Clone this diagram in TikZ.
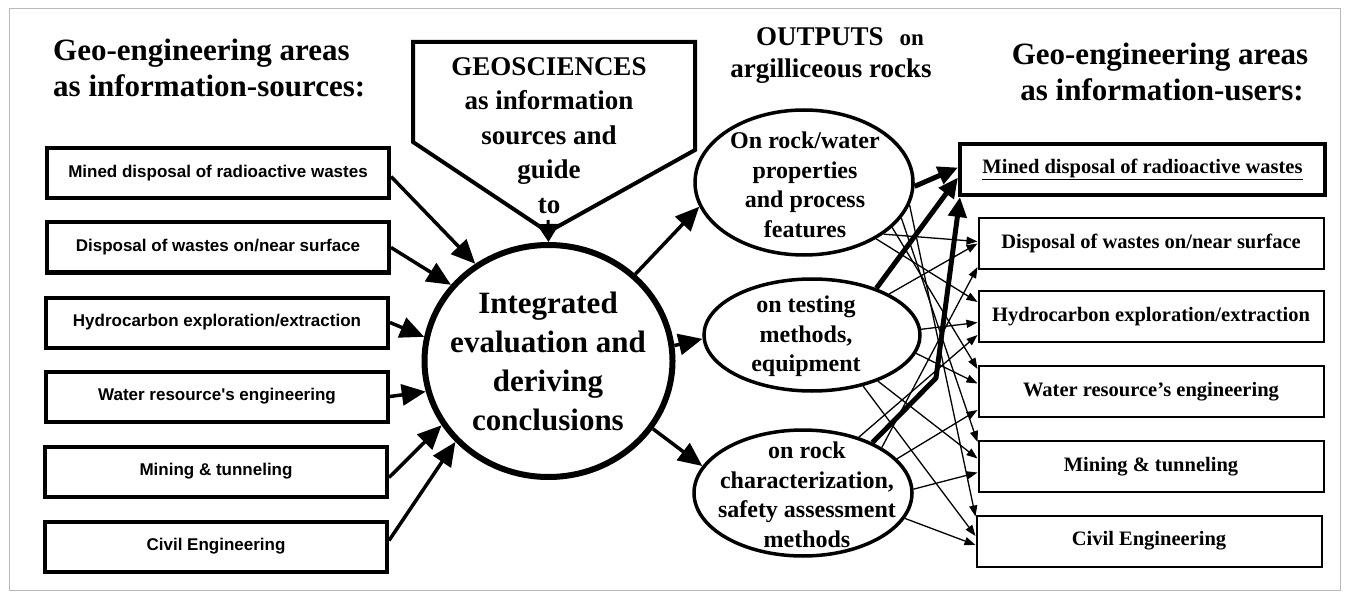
\documentclass[tikz,border=0pt]{standalone}
\usepackage{fontspec}
\setmainfont{Liberation Serif}
\newfontfamily\arialfont{Liberation Sans}
\usetikzlibrary{arrows.meta,shapes.geometric,calc}

\tikzset{
  heading/.style={inner sep=0pt, font=\bfseries\fontsize{31}{34}\selectfont},
  srcbox/.style={draw, line width=4pt, minimum width=342pt, minimum height=50pt,
    inner sep=0pt, font=\arialfont\bfseries\fontsize{17}{20}\selectfont},
  userbox/.style={draw, line width=2pt, minimum width=345pt, minimum height=51pt,
    inner sep=0pt, font=\bfseries\fontsize{20.5}{24}\selectfont},
  mainbox/.style={userbox, line width=4pt, minimum width=365pt},
  oval/.style={draw, ellipse, line width=3.5pt, inner sep=0pt},
  ovaltext/.style={inner sep=0pt, align=center, anchor=north,
    font=\bfseries\fontsize{24}{29.7}\selectfont},
  feed/.style={line width=3.5pt, -{Triangle[length=24pt,width=21pt]}},
  thinuse/.style={line width=1.3pt, -{Triangle[length=11pt,width=8pt]}},
  thickuse/.style={line width=5pt, line join=round, -{Triangle[length=20pt,width=18pt]}}
}

\begin{document}
\begin{tikzpicture}[x=1pt,y=-1pt]
\useasboundingbox (0,0) rectangle (1347,596);
\draw[gray!55, line width=0.8pt] (9,8) rectangle (1340,590);

% headings
\node[heading, anchor=base west] (lh1) at (53,61) {Geo-engineering areas};
\node[heading, anchor=base west] (lh2) at (53,97) {as information-sources:};
\node[heading, anchor=base] (rh1) at (1160,65) {Geo-engineering areas};
\node[heading, anchor=base] (rh2) at (1162,101) {as information-users:};
\node[heading, anchor=base, font=\bfseries\fontsize{27}{30}\selectfont] (out1) at (840,46)
  {OUTPUTS\hspace{16pt}{\fontsize{23}{23}\selectfont on}};
\node[heading, anchor=base, font=\bfseries\fontsize{27}{30}\selectfont] (out2) at (831,78)
  {argilliceous rocks};

% geosciences pentagon
\coordinate (apex) at (548,232);
\coordinate (gtail) at (548,220);
\draw[line width=4pt, line join=miter] (413,42) -- (695,42) -- (695,150) -- (apex) -- (413,142) -- cycle;
\node[inner sep=0pt, align=center, anchor=north, font=\bfseries\fontsize{27}{34.5}\selectfont]
  (geo) at (549,57) {GEOSCIENCES\\as information\\sources and\\guide\\to};

% integrated evaluation
\node[draw, ellipse, line width=6pt, minimum width=248pt, minimum height=232pt, inner sep=0pt]
  (circ) at (548.5,361) {};
\node[inner sep=0pt, align=center, anchor=north, font=\bfseries\fontsize{31}{39}\selectfont]
  (circt) at (548,292) {Integrated\\evaluation and\\deriving\\conclusions};
\draw[line width=3pt, -{Triangle[length=18pt,width=22pt]}] (gtail) -- (circ.north);

% source boxes
\node[srcbox] (b1) at (218,173.5) {Mined disposal of radioactive wastes};
\node[srcbox] (b2) at (218,247.5) {Disposal of wastes on/near surface};
\node[srcbox] (b3) at (217,322.5) {Hydrocarbon exploration/extraction};
\node[srcbox] (b4) at (217,396.5) {Water resource's engineering};
\node[srcbox] (b5) at (216,471.5) {Mining \& tunneling};
\node[srcbox] (b6) at (216,546.5) {Civil Engineering};

\draw[feed] ([yshift=-3pt]b1.east) -- (circ.127);
\draw[feed] (b2.east) -- (circ.142);
\draw[feed] (b3.east) -- (circ.169);
\draw[feed] (b4.east) -- (circ.194);
\draw[feed] ([yshift=-6pt]b5.east) -- (circ.211);
\draw[feed] ([yshift=6pt]b6.east) -- (circ.221);

% outputs
\node[oval, minimum width=218pt, minimum height=145pt] (o1) at (804,182.5) {};
\node[ovaltext] (o1t) at (805,131.5) {On rock/water\\properties\\and process\\features};
\node[oval, minimum width=216pt, minimum height=112pt] (o2) at (812,335) {};
\node[ovaltext] (o2t) at (806,295.5) {on testing\\methods,\\equipment};
\node[oval, minimum width=218pt, minimum height=126pt] (o3) at (803,493) {};
\node[ovaltext] (o3t) at (807,441.7) {on rock\\characterization,\\safety assessment\\methods};

\draw[feed] (circ.45) -- (o1.193);
\draw[feed] (circ.7) -- (o2.182);
\draw[feed] (circ.-33) -- (o3.165);

% user boxes
\node[mainbox] (r1) at (1142.5,169.5) {\underline{Mined disposal of radioactive wastes}};
\node[userbox] (r2) at (1151,243.5) {Disposal of wastes on/near surface};
\node[userbox] (r3) at (1151,316.5) {Hydrocarbon exploration/extraction};
\node[userbox] (r4) at (1151,391.5) {Water resource's engineering};
\node[userbox] (r5) at (1151,466.5) {Mining \& tunneling};
\node[userbox] (r6) at (1149,541) {Civil Engineering};

% thin links
\draw[thinuse] (o1.-33) -- ([yshift=2pt]r2.west);
\draw[thinuse] (o1.-38) -- ([yshift=-12pt]r3.north west);
\draw[thinuse] (o1.-27) -- ([yshift=-4pt]r4.north west);
\draw[thinuse] (o1.-20) -- ([yshift=-2pt]r5.north west);
\draw[thinuse] (o1.-12) -- ([yshift=-2pt]r6.north west);

\draw[thinuse] (o2.28) -- (r2.west);
\draw[thinuse] (o2.3) -- ([yshift=-6pt]r3.west);
\draw[thinuse] (o2.-10) -- ([yshift=8pt]r4.west);
\draw[thinuse] (o2.-35) -- ([yshift=8pt]r5.west);
\draw[thinuse] (o2.-45) -- ([yshift=5pt]r6.west);

\draw[thinuse] (o3.30) -- ([yshift=3pt]r2.south west);
\draw[thinuse] (o3.45) -- ([yshift=8pt]r3.south west);
\draw[thinuse] (o3.20) -- ([yshift=8pt]r4.south west);
\draw[thinuse] (o3.2) -- ([yshift=-6pt]r5.west);
\draw[thinuse] (o3.-14) -- ([yshift=-4pt]r6.west);

% thick links to the main user
\coordinate (bend3) at (936,378);
\draw[thickuse] (o1.-2) -- ([yshift=2pt]r1.west);
\draw[thickuse] (o2.36) -- ([yshift=-8pt]r1.west);
\draw[thickuse] (o3.36) -- (bend3) -- ([xshift=2pt]r1.south west);
\end{tikzpicture}
\end{document}
